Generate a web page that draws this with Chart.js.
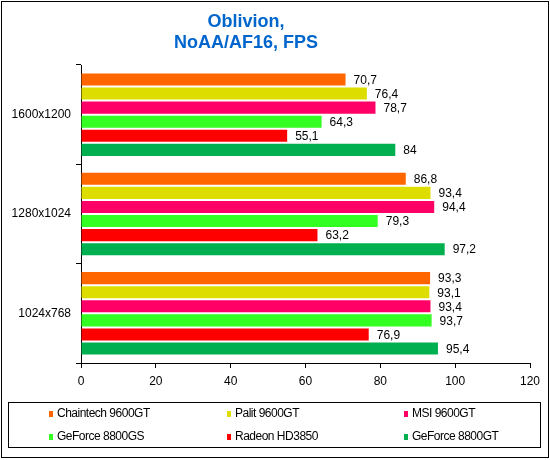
<!DOCTYPE html>
<html>
<head>
<meta charset="utf-8">
<script src="https://cdn.jsdelivr.net/npm/chart.js@4/dist/chart.umd.min.js"></script>
<style>
  html, body { margin: 0; padding: 0; background: #fff; }
  #wrap { width: 550px; height: 460px; position: relative; }
</style>
</head>
<body>
<div id="wrap"><canvas id="c" width="550" height="460"></canvas></div>
<script>
const categories = ['1600x1200', '1280x1024', '1024x768'];
const seriesNames = ['Chaintech 9600GT', 'Palit 9600GT', 'MSI 9600GT', 'GeForce 8800GS', 'Radeon HD3850', 'GeForce 8800GT'];
const chaintech = [70.7, 86.8, 93.3];
const palit = [76.4, 93.4, 93.1];
const msi = [78.7, 94.4, 93.4];
const gf8800gs = [64.3, 79.3, 93.7];
const radeon = [55.1, 63.2, 76.9];
const gf8800gt = [84, 97.2, 95.4];
const xTicks = [0, 20, 40, 60, 80, 100, 120];
const titleLines = ['Oblivion,', 'NoAA/AF16, FPS'];

const colors = ['#FF6600', '#DDDD00', '#FF0066', '#33FF22', '#FF0000', '#00B050'];
const values = [chaintech, palit, msi, gf8800gs, radeon, gf8800gt];

const FONT = 'Arial, "Liberation Sans", sans-serif';

const frame = {
  id: 'frame',
  beforeDraw(chart) {
    const ctx = chart.ctx;
    ctx.save();
    ctx.fillStyle = '#fff';
    ctx.fillRect(0, 0, chart.width, chart.height);
    ctx.restore();
  },
  afterDraw(chart) {
    const ctx = chart.ctx;
    ctx.save();
    // outer border
    ctx.strokeStyle = '#000';
    ctx.lineWidth = 1;
    ctx.strokeRect(1.5, 1.5, 547, 456);
    // title
    ctx.fillStyle = '#0066CC';
    ctx.font = 'bold 18px ' + FONT;
    ctx.textAlign = 'center';
    ctx.textBaseline = 'middle';
    ctx.fillText(titleLines[0], 246, 22);
    ctx.fillText(titleLines[1], 246, 43);
    // data labels
    ctx.fillStyle = '#000';
    ctx.font = '12px ' + FONT;
    ctx.textAlign = 'left';
    chart.data.datasets.forEach((ds, di) => {
      const meta = chart.getDatasetMeta(di);
      meta.data.forEach((bar, i) => {
        const v = ds.data[i];
        ctx.fillText(String(v).replace('.', ','), bar.x + 8, bar.y + 1);
      });
    });
    // legend box
    ctx.strokeRect(8.5, 402.5, 532, 45);
    const cols = [49, 227, 404];
    const rows = [414, 437];
    if ('letterSpacing' in ctx) ctx.letterSpacing = '-0.5px';
    chart.data.datasets.forEach((ds, di) => {
      const cx = cols[di % 3];
      const cy = rows[Math.floor(di / 3)];
      ctx.fillStyle = ds.backgroundColor;
      ctx.fillRect(cx, cy - 3, 4, 6);
      ctx.fillStyle = '#000';
      ctx.fillText(ds.label, cx + 8, cy);
    });
    ctx.restore();
  }
};

new Chart(document.getElementById('c'), {
  type: 'bar',
  data: {
    labels: categories,
    datasets: seriesNames.map((name, i) => ({
      label: name,
      data: values[i],
      backgroundColor: colors[i],
      borderWidth: 0,
      categoryPercentage: 0.85,
      barPercentage: 0.86
    }))
  },
  options: {
    indexAxis: 'y',
    responsive: false,
    animation: false,
    devicePixelRatio: 1,
    layout: { padding: { left: 0, top: 65, right: 20, bottom: 67 } },
    plugins: {
      legend: { display: false },
      title: { display: false },
      tooltip: { enabled: false }
    },
    scales: {
      x: {
        min: 0, max: 120,
        afterFit(s) { s.height = 30; },
        afterBuildTicks(s) { s.ticks = xTicks.map(v => ({ value: v })); },
        grid: { drawOnChartArea: false, drawTicks: true, tickLength: 5, color: '#000' },
        border: { display: true, color: '#000', width: 1 },
        ticks: { color: '#000', font: { family: FONT, size: 12 }, padding: 6 }
      },
      y: {
        afterFit(s) { s.width = 81; },
        grid: { drawOnChartArea: false, drawTicks: true, tickLength: 5, color: '#000', offset: true },
        border: { display: true, color: '#000', width: 1 },
        ticks: { color: '#000', font: { family: FONT, size: 12 }, padding: 5 }
      }
    }
  },
  plugins: [frame]
});
</script>
</body>
</html>
